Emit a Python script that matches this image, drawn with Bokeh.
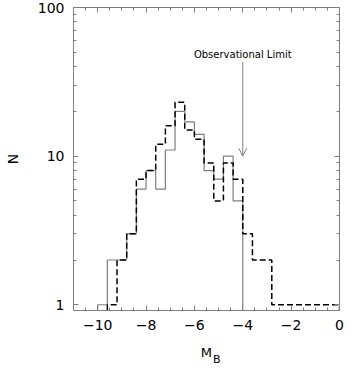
from bokeh.plotting import figure
from bokeh.models import (LinearAxis, LogAxis, FixedTicker, Label, Arrow, OpenHead,
                          CustomJSTickFormatter)
from bokeh.embed import file_html
from bokeh.resources import INLINE

# ---- data ----
solid_edges = [-10.0, -9.6, -9.2, -8.8, -8.4, -8.0, -7.6, -7.2, -6.8, -6.4,
               -6.0, -5.6, -5.2, -4.8, -4.4, -4.0]
solid_counts = [1, 2, 2, 3, 6, 8, 6, 11, 20, 17, 14, 8, 7, 10, 5]

dashed_edges = [-9.6, -9.2, -8.8, -8.4, -8.0, -7.6, -7.2, -6.8, -6.4, -6.0,
                -5.6, -5.2, -4.8, -4.4, -4.0, -3.6, -3.2, -2.8, -2.4, -2.0,
                -1.6, -1.2, -0.8, -0.4, 0.0]
dashed_counts = [1, 2, 3, 7, 8, 12, 16, 23, 15, 13, 9, 5, 9, 7, 3, 2, 2,
                 1, 1, 1, 1, 1, 1, 1]

limit_mag = -4.0
arrow_from = 43
arrow_to = 10
limit_label = "Observational Limit"
limit_label_y = 48

x_ticks = [-10, -8, -6, -4, -2, 0]
x_tick_labels = ["\u221210", "\u22128", "\u22126", "\u22124", "\u22122", "0"]
x_minor = [-11 + 0.5 * i for i in range(23)]
y_ticks = [1, 10, 100]
y_tick_labels = ["1", "10", "100"]
y_minor = [2, 3, 4, 5, 6, 7, 8, 9, 20, 30, 40, 50, 60, 70, 80, 90]

x_title = "M"
x_title_sub = "B"
y_title = "N"

GRAY = "#7f7f7f"
FLOOR = 0.3  # off-scale value used for the empty ends of a histogram


def step_xy(edges, counts, floor):
    xs = [edges[0]]
    ys = [floor]
    for lo, hi, c in zip(edges[:-1], edges[1:], counts):
        xs += [lo, hi]
        ys += [c, c]
    xs.append(edges[-1])
    ys.append(floor)
    return xs, ys


p = figure(width=348, height=368, x_range=(-11, 0), y_range=(0.915, 100),
           y_axis_type="log", output_backend="svg", toolbar_location=None,
           min_border_left=73, min_border_right=9, min_border_top=7,
           min_border_bottom=58, outline_line_color=None,
           background_fill_color="white", border_fill_color="white")
p.grid.visible = False


def style_axis(ax):
    ax.axis_line_color = GRAY
    ax.axis_line_width = 1
    ax.major_tick_line_color = GRAY
    ax.minor_tick_line_color = GRAY
    ax.major_tick_in = 5
    ax.major_tick_out = 0
    ax.minor_tick_in = 3
    ax.minor_tick_out = 0
    ax.major_label_text_font = "DejaVu Sans"
    ax.major_label_text_font_size = "14px"
    ax.major_label_text_color = "black"
    ax.axis_label_text_font = "DejaVu Sans"
    ax.axis_label_text_font_style = "normal"
    ax.axis_label_text_color = "black"


def bare_axis(ax):
    ax.axis_line_color = None
    ax.major_tick_line_color = None
    ax.minor_tick_line_color = None
    ax.major_tick_in = 0
    ax.major_tick_out = 0
    ax.minor_tick_in = 0
    ax.minor_tick_out = 0
    ax.major_label_text_font = "DejaVu Sans"
    ax.major_label_text_color = "black"


xa = p.xaxis[0]
xa.ticker = FixedTicker(ticks=x_ticks, minor_ticks=x_minor)
xa.major_label_overrides = {t: l for t, l in zip(x_ticks, x_tick_labels)}
style_axis(xa)
xa.major_label_standoff = 9

ya = p.yaxis[0]
ya.ticker = FixedTicker(ticks=y_ticks, minor_ticks=y_minor)
ya.major_label_overrides = {t: l for t, l in zip(y_ticks, y_tick_labels)}
style_axis(ya)
ya.major_label_standoff = 9
ya.axis_label = y_title
ya.axis_label_text_font_size = "14px"
ya.axis_label_standoff = 14

blank = CustomJSTickFormatter(code="return ''")
top = LinearAxis(ticker=FixedTicker(ticks=x_ticks, minor_ticks=x_minor), formatter=blank)
style_axis(top)
top.major_label_text_font_size = "0px"
top.major_label_standoff = 0
p.add_layout(top, "above")

right = LogAxis(ticker=FixedTicker(ticks=y_ticks, minor_ticks=y_minor), formatter=blank)
style_axis(right)
right.major_label_text_font_size = "0px"
right.major_label_standoff = 0
p.add_layout(right, "right")

# x title "M" with subscript "B": each placed as the single label of a bare axis
m_axis = LinearAxis(ticker=FixedTicker(ticks=[-5.51]),
                    formatter=CustomJSTickFormatter(args=dict(t=x_title), code="return t"))
bare_axis(m_axis)
m_axis.major_label_text_font_size = "13px"
m_axis.major_label_standoff = 12
p.add_layout(m_axis, "below")

b_axis = LinearAxis(ticker=FixedTicker(ticks=[-5.08]),
                    formatter=CustomJSTickFormatter(args=dict(t=x_title_sub), code="return t"))
bare_axis(b_axis)
b_axis.major_label_text_font_size = "11px"
b_axis.major_label_standoff = -10
p.add_layout(b_axis, "below")

# histograms
sx, sy = step_xy(solid_edges, solid_counts, FLOOR)
p.line(sx, sy, line_color=GRAY, line_width=1.2)
dx, dy = step_xy(dashed_edges, dashed_counts, FLOOR)
p.line(dx, dy, line_color="black", line_width=1.5, line_dash="6 3")

# observational limit arrow and label
p.add_layout(Arrow(end=OpenHead(size=8, line_color=GRAY, line_width=1),
                   x_start=limit_mag, y_start=arrow_from,
                   x_end=limit_mag, y_end=arrow_to,
                   line_color=GRAY, line_width=1))
p.add_layout(Label(x=limit_mag, y=limit_label_y, text=limit_label,
                   text_align="center", text_baseline="middle",
                   text_font="DejaVu Sans", text_font_size="10px",
                   text_color="black"))

open("out.html", "w").write(file_html(p, INLINE))
